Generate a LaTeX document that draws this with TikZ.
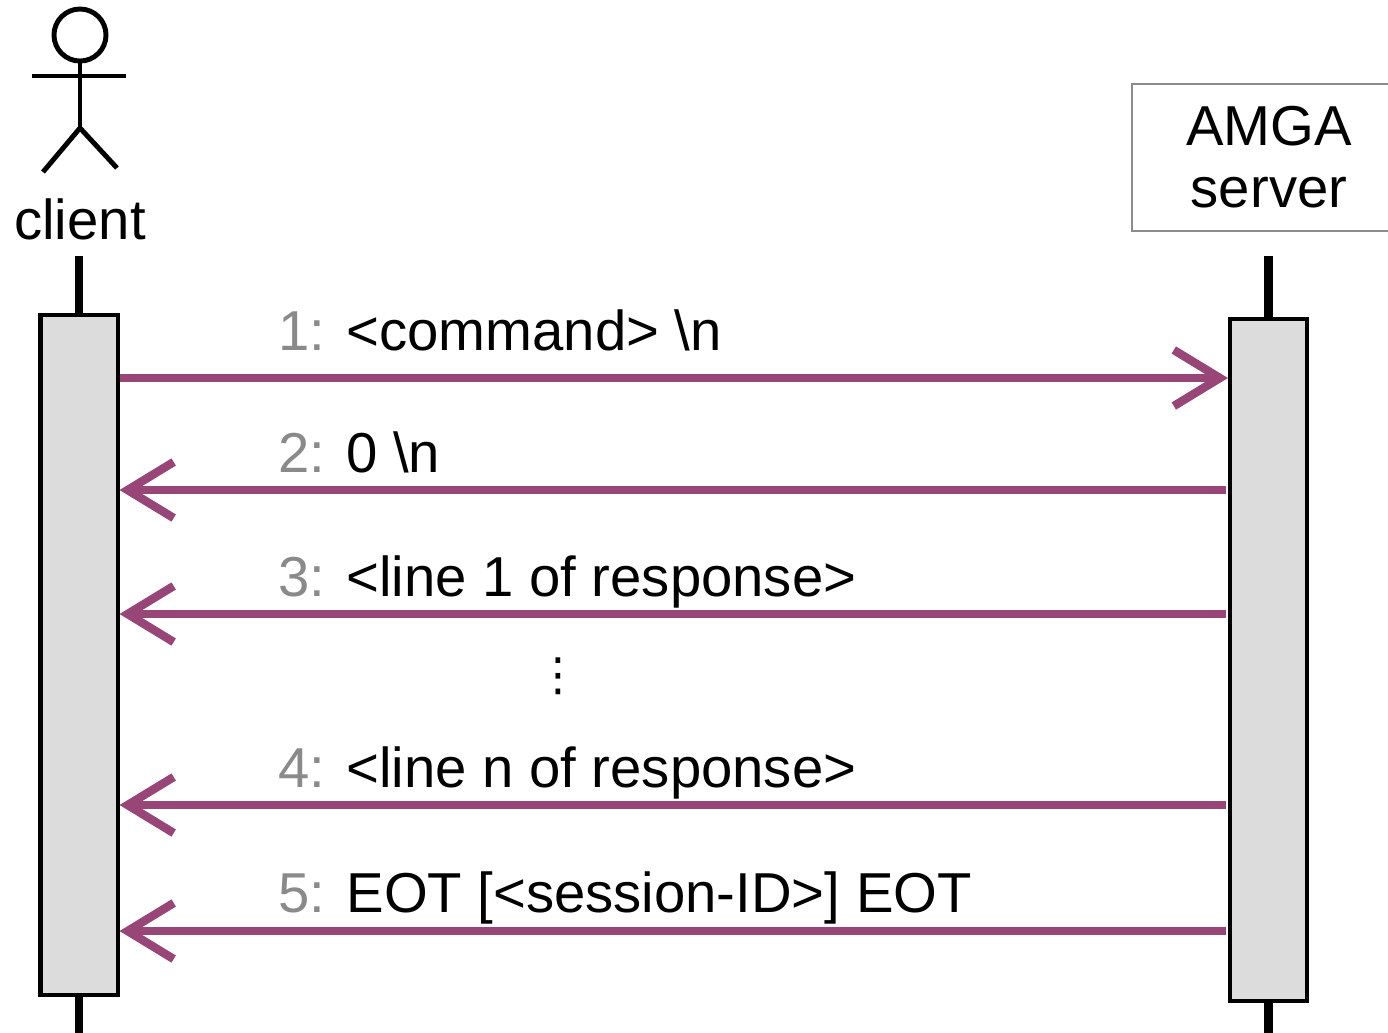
\documentclass[tikz,border=0pt]{standalone}
\usepackage{fontspec}
\setmainfont{Liberation Sans}
\newfontfamily\symfont{DejaVu Sans}
\usepackage{tikz}
\usetikzlibrary{arrows.meta, positioning}

\definecolor{msgcol}{RGB}{152,70,120}
\definecolor{numcol}{RGB}{138,138,138}
\definecolor{actfill}{RGB}{220,220,220}

\tikzset{
  txt/.style={font=\fontsize{16}{17.6}\selectfont, inner sep=0pt},
  msg/.style={draw=msgcol, line width=2.4pt, -{Straight Barb[length=4.6mm,width=5.6mm]}},
  act/.style={draw=black, fill=actfill, line width=1.15pt, minimum width=0.77cm, inner sep=0pt},
  stub/.style={line width=2.3pt},
  stick/.style={line width=1.4pt}
}
\newcommand{\nr}[1]{{\color{numcol}#1}}

\begin{document}
\begin{tikzpicture}[x=0.01cm, y=-0.01cm]
      \useasboundingbox (0,0) rectangle (1388,1032);

      % client actor
      \draw[stick] (80,35) circle[radius=0.26cm];
      \draw[stick] (32,76) -- (126,76);
      \draw[stick] (80,61) -- (80,128);
      \draw[stick] (43,172) -- (80,128) -- (117,168);
      \node[txt, anchor=base] (clientlbl) at (80,239) {client};

      % server
      \node[txt, draw=black!45, line width=0.6pt, align=center,
            minimum width=2.74cm, minimum height=1.47cm] (server) at (1269,157.5) {AMGA\\server};

      % activations
      \node[act, minimum height=6.8cm] (cact) at (79,655) {};
      \node[act, minimum height=6.82cm] (sact) at (1268.5,660) {};

      \draw[stub] (cact.north) -- ++(0,-57);
      \draw[stub] (cact.south) -- ++(0,50);
      \draw[stub] (sact.north) -- ++(0,-61);
      \draw[stub] (sact.south) -- ++(0,50);

      % messages
      \node[txt, anchor=base west] (m1) at (278,350) {\nr{1:} <command> \textbackslash n};
      \draw[msg] (cact.east |- 0,378) -- (sact.west |- 0,378);

      \node[txt, anchor=base west] (m2) at (278,472) {\nr{2:} 0 \textbackslash n};
      \draw[msg, shorten <=0.6pt] (sact.west |- 0,490) -- (cact.east |- 0,490);

      \node[txt, anchor=base west] (m3) at (278,596) {\nr{3:} <line 1 of response>};
      \draw[msg, shorten <=0.6pt] (sact.west |- 0,614) -- (cact.east |- 0,614);

      \node[txt, font=\symfont\fontsize{13}{14}\selectfont] (dots) at (558,676) {⋮};

      \node[txt, anchor=base west] (m4) at (278,787) {\nr{4:} <line n of response>};
      \draw[msg, shorten <=0.6pt] (sact.west |- 0,805) -- (cact.east |- 0,805);

      \node[txt, anchor=base west] (m5) at (278,912) {\nr{5:} EOT [<session-ID>] EOT};
      \draw[msg, shorten <=0.6pt] (sact.west |- 0,931) -- (cact.east |- 0,931);

\end{tikzpicture}
\end{document}
